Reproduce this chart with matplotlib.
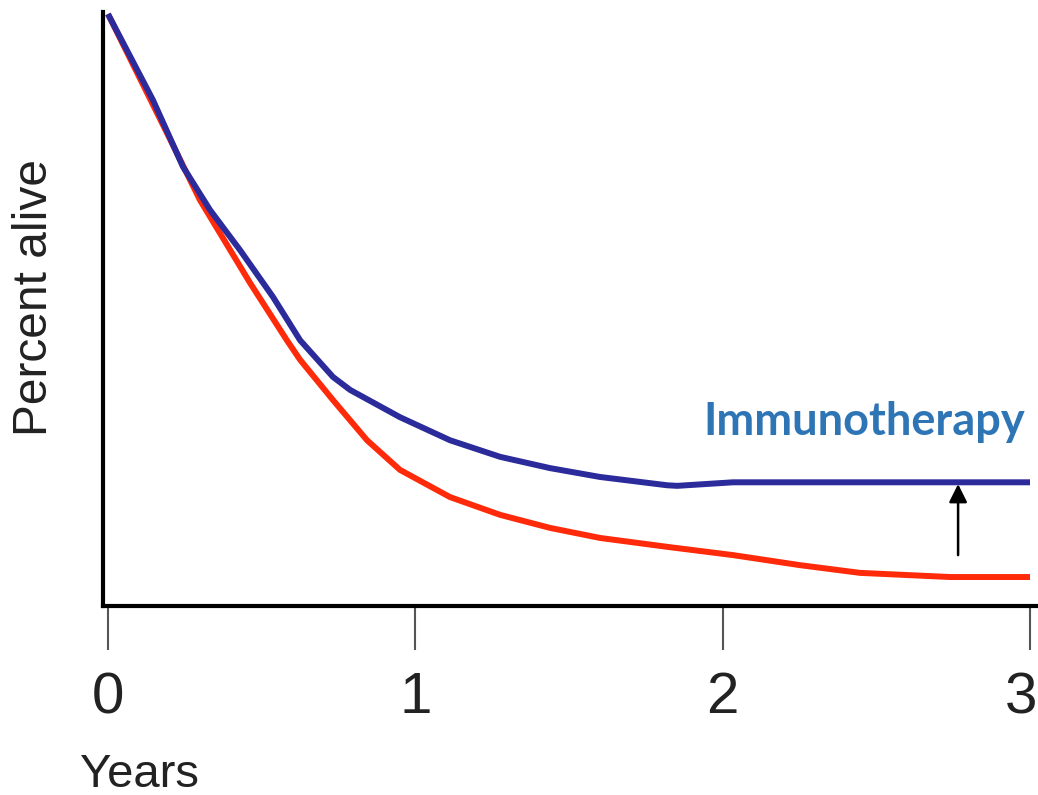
import matplotlib.pyplot as plt
from matplotlib.transforms import ScaledTranslation

# survival curves, years vs percent alive
years_immuno = [0.0, 0.146, 0.244, 0.332, 0.430, 0.537, 0.625, 0.732, 0.788, 0.950, 1.113, 1.276, 1.438, 1.601, 1.819, 1.852, 2.034, 2.252, 3.0]
alive_immuno = [100, 85.5, 74.2, 66.9, 60.1, 52.2, 44.9, 38.7, 36.5, 31.9, 28.0, 25.2, 23.3, 21.8, 20.4, 20.3, 20.9, 20.9, 20.9]

years_control = [0.0, 0.192, 0.299, 0.462, 0.582, 0.625, 0.732, 0.843, 0.950, 1.113, 1.276, 1.438, 1.601, 1.819, 2.034, 2.252, 2.447, 2.740, 3.0]
alive_control = [100, 79.9, 68.6, 54.6, 44.9, 41.6, 34.8, 28.0, 23.0, 18.4, 15.4, 13.2, 11.5, 10.0, 8.6, 6.9, 5.6, 4.9, 4.9]

arrow_year = 2.766
arrow_from = 8.6
arrow_to = 20.6

xticks = [0, 1, 2, 3]

plt.rcParams['font.family'] = ['Liberation Sans', 'DejaVu Sans']

fig = plt.figure(figsize=(10.38, 7.95), dpi=100)
ax = fig.add_axes([0.0992, 0.2377, 0.9008, 0.7472])

# lines
ax.plot(years_control, alive_control, color='#ff2a0a', lw=4.3,
        solid_capstyle='butt', solid_joinstyle='round', zorder=3)
ax.plot(years_immuno, alive_immuno, color='#2b2b9b', lw=4.3,
        solid_capstyle='butt', solid_joinstyle='round', zorder=4)

# arrow showing the gain
ax.annotate('', xy=(arrow_year, arrow_to), xytext=(arrow_year, arrow_from),
            arrowprops=dict(arrowstyle='-|>,head_length=1.1,head_width=0.55',
                            color='#555555', lw=1.8, fc='black', ec='black', shrinkA=0, shrinkB=0))

ax.text(2.985, 31.1, 'Immunotherapy', color='#2e75b6', fontsize=32.5, fontweight='bold',
        family='Lato', ha='right', va='center')

# axes
ax.set_xlim(-0.0163, 3.026)
ax.set_ylim(0, 100.34)
for side in ['top', 'right']:
    ax.spines[side].set_visible(False)
ax.spines['left'].set_linewidth(3)
ax.spines['bottom'].set_linewidth(3)
ax.set_yticks([])
ax.set_xticks(xticks)
ax.set_xticklabels([str(t) for t in xticks])
ax.tick_params(axis='x', direction='out', length=32, width=1.5, color='#555555',
               labelsize=42, labelcolor='#222222', pad=15)

# last label sits at the right edge, nudge it inside
last = ax.get_xticklabels()[-1]
last.set_transform(last.get_transform() + ScaledTranslation(-9 / 100, 0, fig.dpi_scale_trans))

ax.text(-0.0727, 0.52, 'Percent alive', transform=ax.transAxes, rotation=90,
        fontsize=34.5, color='#222222', ha='center', va='center')
fig.text(0.077, 0.01, 'Years', fontsize=34, color='#222222', ha='left', va='baseline')

fig.savefig('out.png', dpi=100, facecolor='white')
